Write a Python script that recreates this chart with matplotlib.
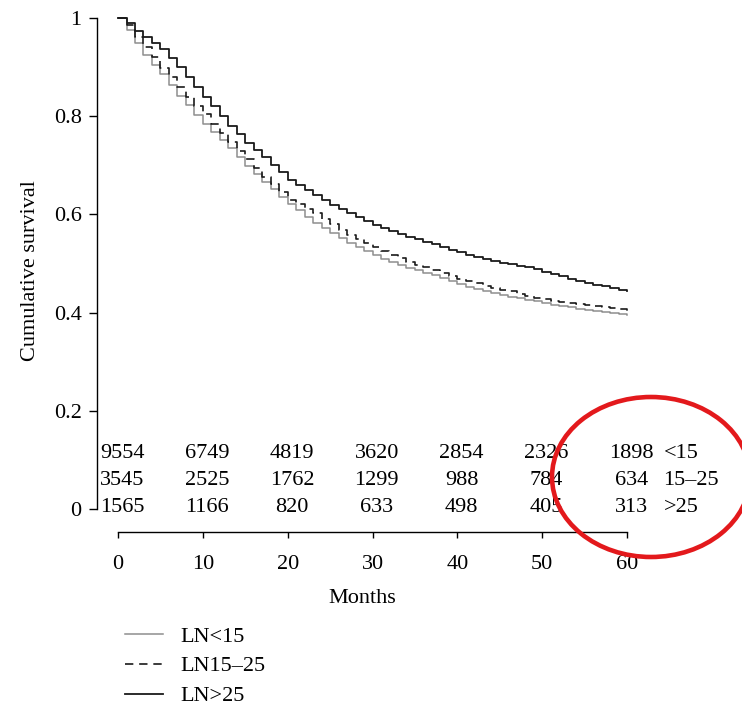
import matplotlib
matplotlib.use("Agg")
import matplotlib.pyplot as plt
from matplotlib.patches import Ellipse

plt.rcParams['font.family'] = ['Liberation Serif', 'DejaVu Serif']

# Kaplan-Meier estimates, one value per month (0..60)
months = list(range(61))

surv_lt15 = [1.000, 0.975, 0.950, 0.925, 0.905, 0.885, 0.863, 0.842, 0.822, 0.802,
             0.785, 0.768, 0.752, 0.735, 0.717, 0.699, 0.682, 0.667, 0.651, 0.636,
             0.622, 0.608, 0.595, 0.583, 0.572, 0.562, 0.552, 0.542, 0.533, 0.525,
             0.517, 0.510, 0.503, 0.497, 0.491, 0.486, 0.481, 0.476, 0.470, 0.464,
             0.458, 0.453, 0.448, 0.444, 0.440, 0.436, 0.432, 0.429, 0.426, 0.423,
             0.419, 0.416, 0.414, 0.411, 0.408, 0.406, 0.404, 0.402, 0.400, 0.398,
             0.396]

surv_15_25 = [1.000, 0.985, 0.962, 0.940, 0.920, 0.899, 0.879, 0.860, 0.840, 0.821,
              0.804, 0.785, 0.766, 0.747, 0.729, 0.712, 0.694, 0.677, 0.661, 0.645,
              0.630, 0.621, 0.612, 0.603, 0.591, 0.580, 0.569, 0.559, 0.550, 0.541,
              0.533, 0.525, 0.518, 0.511, 0.504, 0.497, 0.492, 0.486, 0.480, 0.474,
              0.469, 0.465, 0.460, 0.455, 0.451, 0.447, 0.443, 0.438, 0.434, 0.430,
              0.427, 0.424, 0.421, 0.419, 0.417, 0.415, 0.413, 0.411, 0.409, 0.407,
              0.404]

surv_gt25 = [1.000, 0.990, 0.974, 0.962, 0.950, 0.936, 0.918, 0.900, 0.880, 0.860,
             0.840, 0.820, 0.800, 0.780, 0.763, 0.746, 0.731, 0.716, 0.701, 0.687,
             0.670, 0.659, 0.649, 0.640, 0.630, 0.620, 0.611, 0.602, 0.594, 0.586,
             0.579, 0.572, 0.566, 0.560, 0.554, 0.549, 0.544, 0.539, 0.533, 0.528,
             0.523, 0.518, 0.514, 0.509, 0.505, 0.502, 0.498, 0.495, 0.492, 0.488,
             0.483, 0.478, 0.474, 0.469, 0.465, 0.461, 0.457, 0.454, 0.451, 0.447,
             0.443]

# numbers at risk
risk_months = [0, 10, 20, 30, 40, 50, 60]
risk_lt15 = [9554, 6749, 4819, 3620, 2854, 2326, 1898]
risk_15_25 = [3545, 2525, 1762, 1299, 988, 784, 634]
risk_gt25 = [1565, 1166, 820, 633, 498, 405, 313]
risk_groups = ['<15', '15\u201325', '>25']

yticks = [0, 0.2, 0.4, 0.6, 0.8, 1.0]
ytick_labels = ['0', '0.2', '0.4', '0.6', '0.8', '1']

FS = 16
fig = plt.figure(figsize=(7.42, 7.08), dpi=100)
ax = fig.add_axes([97 / 742, 199 / 708, 530 / 742, 491 / 708])

ax.step(months, surv_lt15, where='post', color='#8e8e8e', lw=1.1,
        label='LN<15', clip_on=False)
ax.step(months, surv_15_25, where='post', color='#1a1a1a', lw=1.2,
        ls=(0, (5, 3.5)), label='LN15\u201325', clip_on=False)
ax.step(months, surv_gt25, where='post', color='#1a1a1a', lw=1.3,
        label='LN>25', clip_on=False)

ax.set_xlim(-2.48, 60)
ax.set_ylim(0, 1)

for s in ['top', 'right']:
    ax.spines[s].set_visible(False)
ax.spines['left'].set_linewidth(1.0)
ax.spines['bottom'].set_linewidth(1.0)
ax.spines['bottom'].set_position(('outward', 16.5))
ax.spines['bottom'].set_bounds(0, 60)

ax.set_xticks(risk_months)
ax.set_yticks(yticks)
ax.set_yticklabels(ytick_labels)
ax.tick_params(axis='y', direction='out', length=6, width=1.0, pad=5, labelsize=FS)
ax.tick_params(axis='x', direction='out', length=4.5, width=1.0, pad=12, labelsize=FS)

ax.set_xlabel('Months', fontsize=FS, labelpad=11)
ax.set_ylabel('Cumulative survival', fontsize=FS)
ax.yaxis.set_label_coords(-0.107, 0.485)

# number-at-risk table inside the axes
row_y = [0.114, 0.058, 0.004]
for yy, counts in zip(row_y, [risk_lt15, risk_15_25, risk_gt25]):
    for m, n in zip(risk_months, counts):
        ax.text(m + 0.5, yy, str(n), ha='center', va='center', fontsize=FS)
for yy, g in zip(row_y, risk_groups):
    ax.text(64.3, yy, g, ha='left', va='center', fontsize=FS, clip_on=False)

# red highlight ellipse around the last column
ell = Ellipse((651 / 742, 231 / 708), 198 / 742, 160 / 708,
              transform=fig.transFigure, fill=False, edgecolor='#e3191c', lw=3.3)
fig.add_artist(ell)

leg = ax.legend(loc='upper left', bbox_to_anchor=(125 / 742, 82 / 708),
                bbox_transform=fig.transFigure, frameon=False, fontsize=FS,
                handlelength=1.7, handletextpad=0.8, labelspacing=0.42,
                borderpad=0, borderaxespad=0)

fig.savefig('out.png', dpi=100)
